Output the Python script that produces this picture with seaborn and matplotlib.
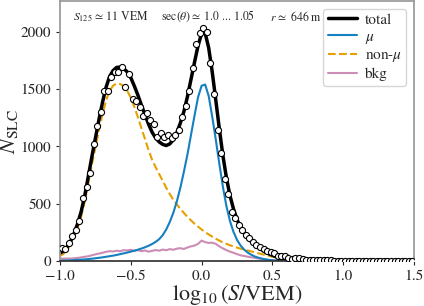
import numpy as np
import pandas as pd
import matplotlib
matplotlib.use("Agg")
import matplotlib.pyplot as plt
import seaborn as sns

# histogram of station signals (bin centres every 0.025 in log10 S)
bin_lo, bin_hi, n_bins = -0.9875, 1.4875, 100
counts = [111, 105, 160, 215, 270, 350, 547, 645, 771, 1021,
          1181, 1303, 1486, 1486, 1608, 1646, 1646, 1690, 1521, 1630,
          1411, 1395, 1340, 1265, 1290, 1232, 1195, 1079, 1114, 1085,
          1099, 1071, 1099, 1143, 1259, 1353, 1486, 1681, 1894, 1992,
          2030, 2001, 1725, 1457, 1143, 940, 713, 585, 430, 373,
          314, 271, 227, 200, 165, 140, 120, 102, 90, 80,
          70, 45, 45, 40, 30, 20, 28, 22, 15, 12,
          10, 9, 8, 7, 6, 5, 5, 4, 4, 3,
          3, 3, 2, 2, 2, 2, 1, 1, 1, 1,
          1, 1, 1, 0, 0, 0, 0, 0, 0, 0]

# fitted model components, sampled every 0.025 from -1.0 to 0.75
curve_lo, curve_hi, n_curve = -1.0, 0.75, 71
total = [70, 86, 122, 172, 242, 327, 434, 571, 739, 910,
         1072, 1233, 1384, 1515, 1610, 1662, 1690, 1692, 1680, 1650,
         1600, 1527, 1448, 1360, 1278, 1195, 1125, 1075, 1040, 1018,
         1008, 1022, 1058, 1120, 1205, 1305, 1435, 1585, 1735, 1880,
         1985, 1990, 1860, 1650, 1405, 1156, 923, 728, 572, 455,
         362, 293, 244, 204, 171, 144, 119, 99, 79, 63,
         50, 39, 31, 24, 17, 12, 9, 6, 4, 3, 2]
mu = [3, 4, 5, 6, 8, 10, 12, 14, 17, 20,
      24, 28, 32, 37, 42, 47, 53, 60, 67, 74,
      82, 90, 99, 109, 120, 133, 148, 167, 190, 225,
      275, 340, 420, 520, 640, 780, 930, 1100, 1270, 1430,
      1530, 1540, 1440, 1260, 1060, 850, 650, 480, 350, 255,
      185, 135, 100, 74, 55, 40, 29, 21, 15, 10,
      7, 4, 3, 2, 1, 0, 0, 0, 0, 0, 0]
non_mu = [45, 62, 95, 145, 210, 290, 390, 520, 680, 840,
          990, 1140, 1280, 1400, 1485, 1530, 1550, 1545, 1525, 1485,
          1425, 1345, 1255, 1160, 1065, 970, 885, 820, 760, 700,
          640, 585, 535, 495, 455, 420, 385, 355, 325, 300,
          275, 252, 232, 213, 195, 178, 163, 150, 138, 127,
          117, 108, 100, 92, 84, 76, 68, 60, 52, 45,
          38, 32, 26, 21, 16, 12, 9, 6, 4, 3, 2]
bkg = [22, 20, 22, 21, 24, 27, 32, 37, 42, 50,
       58, 65, 72, 80, 86, 83, 90, 85, 95, 92,
       98, 90, 95, 86, 92, 82, 88, 96, 90, 100,
       94, 104, 98, 108, 112, 105, 118, 128, 135, 150,
       178, 165, 158, 160, 150, 128, 110, 95, 82, 72,
       60, 50, 44, 38, 32, 28, 22, 18, 12, 8,
       5, 3, 2, 1, 0, 0, 0, 0, 0, 0, 0]

hist = pd.DataFrame({"x": np.linspace(bin_lo, bin_hi, n_bins), "n": counts})
model = pd.DataFrame({"x": np.linspace(curve_lo, curve_hi, n_curve),
                      "total": total, "mu": mu, "non_mu": non_mu, "bkg": bkg})

sns.set_theme(style="ticks")
plt.rcParams["font.family"] = ["STIXGeneral", "DejaVu Serif"]
plt.rcParams["mathtext.fontset"] = "stix"

c_mu, c_nonmu, c_bkg = "#1580c0", "#e6a100", "#cc8cb4"

fig = plt.figure(figsize=(4.24, 3.06), dpi=100)
ax = fig.add_axes([0.1415, 0.147, 0.835, 0.85])

sns.lineplot(data=model, x="x", y="bkg", ax=ax, color=c_bkg, lw=1.5, label="bkg")
sns.lineplot(data=model, x="x", y="non_mu", ax=ax, color=c_nonmu, lw=1.5,
             linestyle="--", label=r"non-$\mu$")
sns.lineplot(data=model, x="x", y="mu", ax=ax, color=c_mu, lw=1.5, label=r"$\mu$")
sns.lineplot(data=model, x="x", y="total", ax=ax, color="black", lw=2.5, label="total")
ax.plot(hist["x"], hist["n"], "o", ms=4.4, mfc="white", mec="black", mew=0.8, zorder=5)

ax.set_xlim(-1.0, 1.5)
ax.set_ylim(0, 2270)
ax.set_xticks([-1.0, -0.5, 0.0, 0.5, 1.0, 1.5])
ax.set_yticks([0, 500, 1000, 1500, 2000])
ax.tick_params(labelsize=11, length=3, width=0.8)
ax.set_xlabel(r"$\log_{10}(S/\mathrm{VEM})$", fontsize=16, labelpad=0)
ax.set_ylabel(r"$N_{\mathrm{SLC}}$", fontsize=16, labelpad=0.5)

for side in ["left", "top", "right"]:
    ax.spines[side].set_color("#999999")
ax.spines["bottom"].set_color("#333333")

ax.text(0.037, 0.94, r"$S_{125}\,\simeq\,11$ VEM", transform=ax.transAxes,
        fontsize=8.5, va="center")
ax.text(0.285, 0.94, r"sec($\theta$)$\simeq$ 1.0 ... 1.05", transform=ax.transAxes,
        fontsize=8.5, va="center")
ax.text(0.593, 0.94, r"$r\,\simeq$ 646 m", transform=ax.transAxes,
        fontsize=8.5, va="center")

h, l = ax.get_legend_handles_labels()
order = [3, 2, 1, 0]
leg = ax.legend([h[i] for i in order], [l[i] for i in order], loc="upper right",
                fontsize=11, handlelength=1.9, labelspacing=0.2, borderpad=0.3,
                handletextpad=0.5, borderaxespad=0.5)
leg.set_zorder(10)

fig.savefig("out.png", dpi=100)
